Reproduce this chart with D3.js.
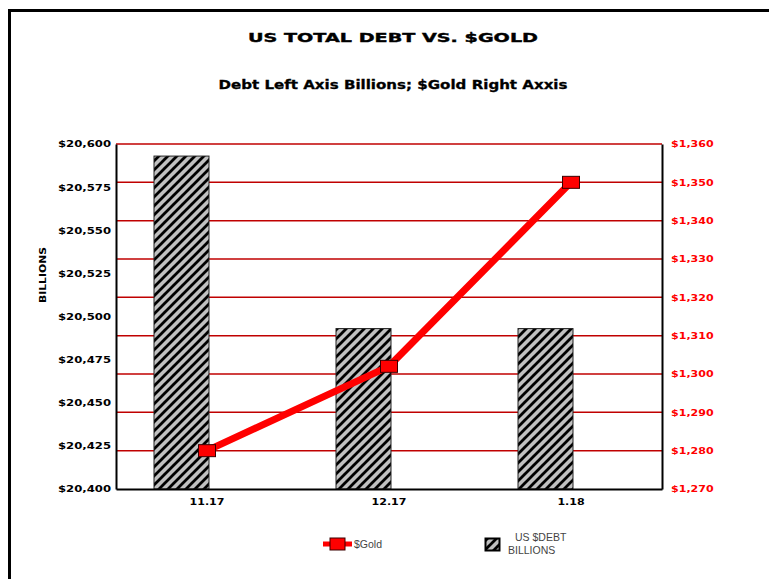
<!DOCTYPE html>
<html>
<head>
<meta charset="utf-8">
<script src="https://cdn.jsdelivr.net/npm/d3@7/dist/d3.min.js"></script>
<style>
  html, body { margin: 0; padding: 0; background: #fff; }
  svg { display: block; }
</style>
</head>
<body>
<svg id="chart" width="769" height="579"></svg>
<script>
// ---- Data ----
const categories = ["11.17", "12.17", "1.18"];
const debtValues = [20593, 20493, 20493];      // US $DEBT, billions (left axis)
const goldValues = [1280, 1302, 1350];         // $Gold (right axis)
const leftTicks = [20400, 20425, 20450, 20475, 20500, 20525, 20550, 20575, 20600];
const rightTicks = [1270, 1280, 1290, 1300, 1310, 1320, 1330, 1340, 1350, 1360];
const titleText = "US TOTAL DEBT VS. $GOLD";
const subtitleText = "Debt Left Axis Billions; $Gold Right Axxis";
const yTitleText = "BILLIONS";
const legendGold = "$Gold";
const legendDebt = ["US $DEBT", "BILLIONS"];

// ---- Layout ----
const W = 769, H = 579;
const plot = { left: 116, right: 662, top: 144, bottom: 489 };

const svg = d3.select("#chart");

// Frame
svg.append("path")
  .attr("d", `M9.5,${H} V10.5 H${W}`)
  .attr("fill", "none").attr("stroke", "#000").attr("stroke-width", 3);

// Scales
const x = d3.scaleBand().domain(categories).range([plot.left, plot.right]).padding(0);
const yL = d3.scaleLinear().domain([20400, 20600]).range([plot.bottom, plot.top]);
const yR = d3.scaleLinear().domain([1270, 1360]).range([plot.bottom, plot.top]);

// Hatch pattern
const defs = svg.append("defs");
const pat = defs.append("pattern").attr("id", "hatch")
  .attr("patternUnits", "userSpaceOnUse").attr("width", 9).attr("height", 9);
pat.append("rect").attr("width", 9).attr("height", 9).attr("fill", "#c0c0c0");
pat.append("path").attr("d", "M-1,10 L10,-1 M-3,3 L3,-3 M6,12 L12,6")
  .attr("stroke", "#000").attr("stroke-width", 2.8);

function stretch(sel, factor) {
  sel.each(function () {
    const len = this.getComputedTextLength();
    d3.select(this).attr("textLength", len * factor).attr("lengthAdjust", "spacingAndGlyphs");
  });
}

// Gridlines (right axis ticks)
svg.append("g").selectAll("line")
  .data(rightTicks.filter(d => d !== 1270))
  .join("line")
  .attr("x1", plot.left).attr("x2", plot.right)
  .attr("y1", d => yR(d)).attr("y2", d => yR(d))
  .attr("stroke", "#c00000").attr("stroke-width", 1.5);

// Bars
const barStart = 38 / 182, barEnd = 93 / 182;
svg.append("g").selectAll("rect")
  .data(categories.map((c, i) => ({ c, v: debtValues[i] })))
  .join("rect")
  .attr("x", d => x(d.c) + x.bandwidth() * barStart)
  .attr("width", x.bandwidth() * (barEnd - barStart))
  .attr("y", d => yL(d.v))
  .attr("height", d => yL(20400) - yL(d.v))
  .attr("fill", "url(#hatch)")
  .attr("stroke", "#222").attr("stroke-width", 1);

// Axes
const fmt = d3.format(",");
const gL = svg.append("g").attr("transform", `translate(${plot.left},0)`)
  .call(d3.axisLeft(yL).tickValues(leftTicks).tickSize(0).tickPadding(5).tickFormat(d => "$" + fmt(d)));
const gR = svg.append("g").attr("transform", `translate(${plot.right},0)`)
  .call(d3.axisRight(yR).tickValues(rightTicks).tickSize(0).tickPadding(9).tickFormat(d => "$" + fmt(d)));
const gB = svg.append("g").attr("transform", `translate(0,${plot.bottom})`)
  .call(d3.axisBottom(x).tickSize(0).tickPadding(10));

[gL, gR, gB].forEach(g => {
  g.select(".domain").attr("stroke", "#000").attr("stroke-width", 2);
  g.selectAll("text").attr("font-family", "DejaVu Sans").attr("font-weight", "bold")
    .attr("font-size", 8.5);
});
gL.selectAll("text").attr("fill", "#000").attr("dy", "0.35em");
gR.selectAll("text").attr("fill", "#ff0000").attr("dy", "0.35em");
gB.selectAll("text").attr("fill", "#000");
stretch(gL.selectAll("text"), 1.37);
stretch(gR.selectAll("text"), 1.3);
stretch(gB.selectAll("text"), 1.3);

// Gold line
const line = d3.line().x((d, i) => x(categories[i]) + x.bandwidth() / 2).y(d => yR(d));
svg.append("path").datum(goldValues)
  .attr("d", line).attr("fill", "none")
  .attr("stroke", "#ff0000").attr("stroke-width", 7).attr("stroke-linejoin", "round");
svg.append("g").selectAll("rect")
  .data(goldValues)
  .join("rect")
  .attr("x", (d, i) => x(categories[i]) + x.bandwidth() / 2 - 8.5)
  .attr("y", d => yR(d) - 6)
  .attr("width", 17).attr("height", 12)
  .attr("fill", "#ff0000").attr("stroke", "#3a0000").attr("stroke-width", 1);

// Titles
const t1 = svg.append("text").attr("x", 393).attr("y", 42).attr("text-anchor", "middle")
  .attr("font-family", "DejaVu Sans").attr("font-weight", "bold").attr("font-size", 13)
  .attr("fill", "#000").attr("stroke", "#000").attr("stroke-width", 0.4).text(titleText);
t1.attr("textLength", 290).attr("lengthAdjust", "spacingAndGlyphs");
const t2 = svg.append("text").attr("x", 393).attr("y", 89).attr("text-anchor", "middle")
  .attr("font-family", "DejaVu Sans").attr("font-weight", "bold").attr("font-size", 11.5)
  .attr("fill", "#000").attr("stroke", "#000").attr("stroke-width", 0.3).text(subtitleText);
t2.attr("textLength", 349).attr("lengthAdjust", "spacingAndGlyphs");

// Y axis title
svg.append("text").attr("transform", "translate(46,275) rotate(-90)")
  .attr("text-anchor", "middle").attr("font-family", "DejaVu Sans").attr("font-weight", "bold")
  .attr("font-size", 8.5).attr("fill", "#000").text(yTitleText)
  .attr("textLength", 56).attr("lengthAdjust", "spacingAndGlyphs");

// Legend
const lg = svg.append("g");
lg.append("line").attr("x1", 323).attr("x2", 352).attr("y1", 544).attr("y2", 544)
  .attr("stroke", "#ff0000").attr("stroke-width", 5);
lg.append("rect").attr("x", 330).attr("y", 538).attr("width", 15).attr("height", 12)
  .attr("fill", "#ff0000").attr("stroke", "#3a0000").attr("stroke-width", 1);
lg.append("text").attr("x", 354).attr("y", 548).attr("font-family", "Liberation Sans")
  .attr("font-size", 10.5).attr("fill", "#444").text(legendGold);

lg.append("rect").attr("x", 485.5).attr("y", 538.5).attr("width", 14).attr("height", 12)
  .attr("fill", "url(#hatch)").attr("stroke", "#000").attr("stroke-width", 2);
lg.append("text").attr("x", 515).attr("y", 541).attr("font-family", "Liberation Sans")
  .attr("font-size", 10.5).attr("fill", "#444").text(legendDebt[0]);
lg.append("text").attr("x", 508).attr("y", 554).attr("font-family", "Liberation Sans")
  .attr("font-size", 10.5).attr("fill", "#444").text(legendDebt[1]);
</script>
</body>
</html>
